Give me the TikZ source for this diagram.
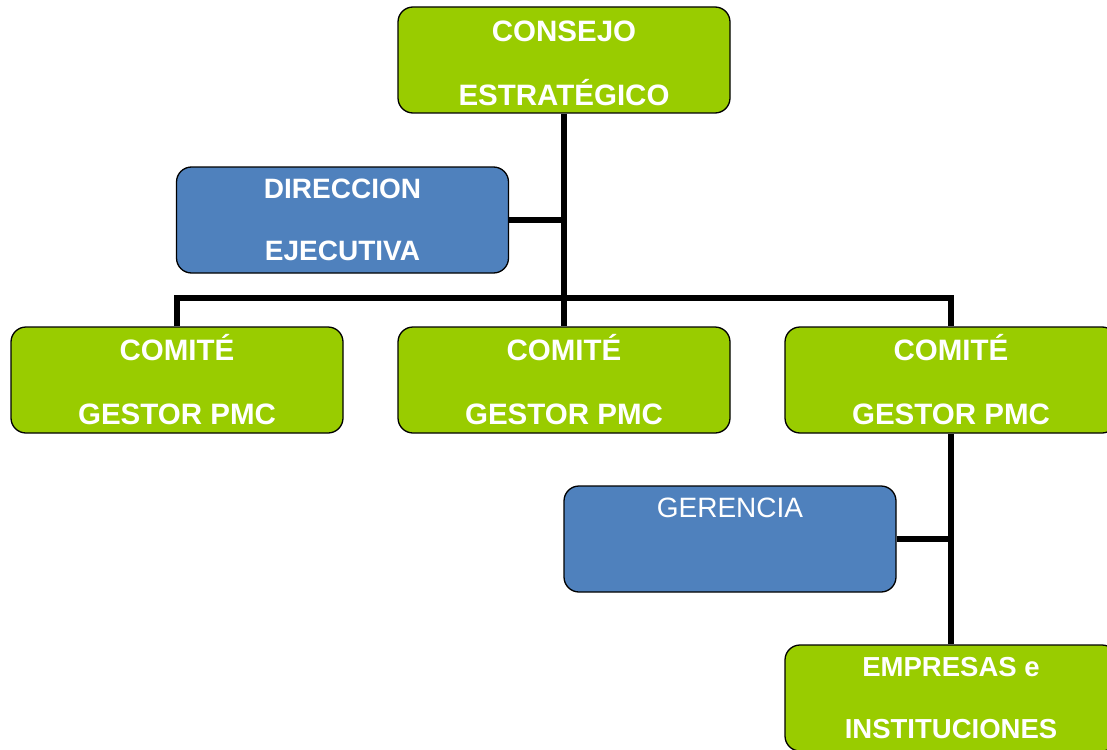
\documentclass[tikz,border=0pt]{standalone}
\usepackage{fontspec}
\setmainfont{Liberation Sans}
\definecolor{boxgreen}{HTML}{99CC00}
\definecolor{boxblue}{HTML}{4F81BD}
\begin{document}
\begin{tikzpicture}[x=1pt,y=-1pt,
  basebox/.style={draw=black, line width=1.3pt, rounded corners=15pt,
    minimum width=332pt, minimum height=106pt, inner sep=0pt, align=center,
    text=white},
  greenbox/.style={basebox, fill=boxgreen,
    font=\fontsize{29.5}{64}\selectfont\bfseries},
  bluebox/.style={basebox, fill=boxblue,
    font=\fontsize{28}{62}\selectfont\bfseries},
  gerbox/.style={basebox, fill=boxblue},
  gertext/.style={text=white, font=\fontsize{28}{34}\selectfont, inner sep=0pt},
  conn/.style={draw=black, line width=5.5pt}]
\useasboundingbox (0,0) rectangle (1107,749);
\clip (0,0) rectangle (1107,749);
\node[greenbox] (cons) at (564,60) {\rule{0pt}{28pt}CONSEJO\\ESTRATÉGICO};
\node[bluebox] (dir) at (342.5,220) {DIRECCION\\EJECUTIVA};
\node[greenbox] (c1) at (177,380) {COMITÉ\\GESTOR PMC};
\node[greenbox] (c2) at (564,380) {COMITÉ\\GESTOR PMC};
\node[greenbox] (c3) at (951,380) {COMITÉ\\GESTOR PMC};
\node[gerbox] (ger) at (730,539) {};
\node[gertext] (gert) at (730,508) {GERENCIA};
\node[greenbox, font=\fontsize{27.5}{62}\selectfont\bfseries] (emp) at (951,698) {EMPRESAS e\\INSTITUCIONES};
\coordinate (bar) at (564,298);
\draw[conn] (cons.south) -- (c2.north);
\draw[conn] (dir.east) -- (dir.east -| cons.south);
\draw[conn] (c1.north) -- (c1.north |- bar) -| (c3.north);
\draw[conn] (c3.south) -- (emp.north);
\draw[conn] (ger.east) -- (ger.east -| c3.south);
\end{tikzpicture}
\end{document}
